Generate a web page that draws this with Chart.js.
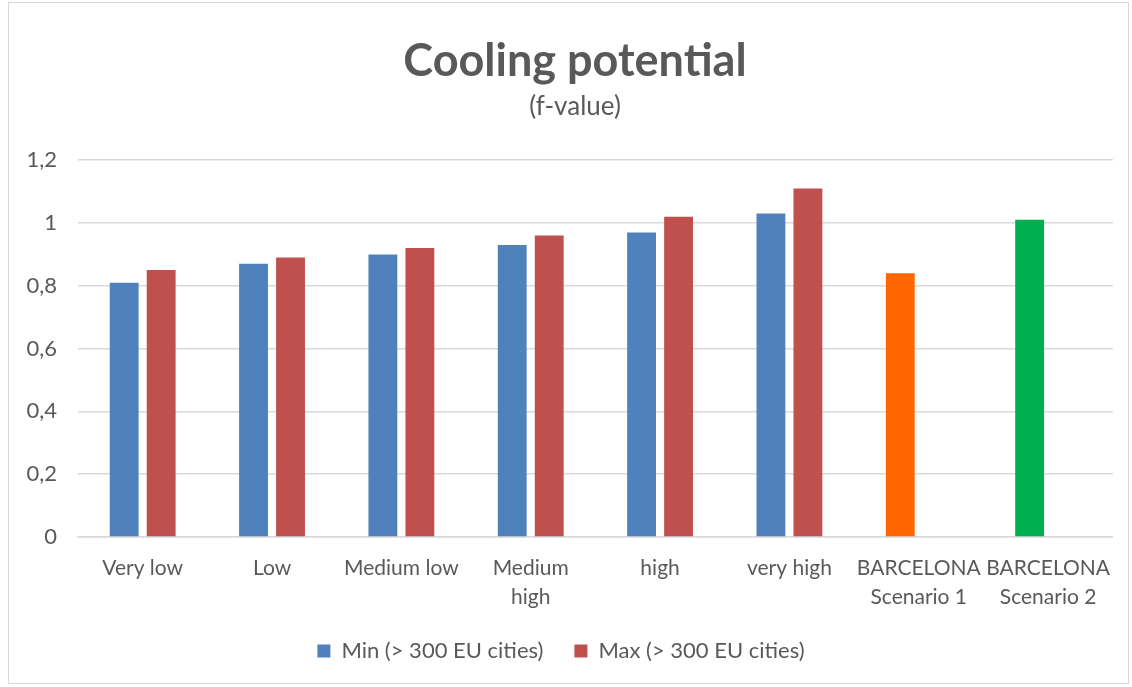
<!DOCTYPE html>
<html>
<head>
<meta charset="utf-8">
<script src="https://cdn.jsdelivr.net/npm/chart.js@4/dist/chart.umd.min.js"></script>
<style>
  html, body { margin: 0; padding: 0; background: #fff; }
  #wrap {
    position: absolute; left: 8px; top: 2px;
    width: 1121px; height: 682px;
    border: 1px solid #d9d9d9; box-sizing: border-box;
  }
</style>
</head>
<body>
<div id="wrap"><canvas id="chartCooling"></canvas></div>
<script>
const categories = ["Very low", "Low", "Medium low", ["Medium", "high"], "high", "very high",
                    ["BARCELONA", "Scenario 1"], ["BARCELONA", "Scenario 2"]];
const minValues = [0.81, 0.87, 0.90, 0.93, 0.97, 1.03, 0.84, 1.01];
const maxValues = [0.85, 0.89, 0.92, 0.96, 1.02, 1.11, null, null];
const minColors = ['#4F81BD', '#4F81BD', '#4F81BD', '#4F81BD', '#4F81BD', '#4F81BD', '#FF6600', '#00B050'];
const seriesNames = ["Min (> 300 EU cities)", "Max (> 300 EU cities)"];
const yTicks = [0, 0.2, 0.4, 0.6, 0.8, 1, 1.2];

const textColor = '#595959';
const fontFamily = 'Lato, "Open Sans", sans-serif';

// excel centres the titles a bit right of the canvas middle
const shiftTitles = {
    id: 'shiftTitles',
    afterLayout(chart) {
        chart.boxes.filter(b => b.position === 'top').forEach(b => {
            b.left += 14;
            b.right += 14;
        });
    }
};

const data = {
    labels: categories,
    datasets: [{
        label: seriesNames[0],
        data: minValues,
        backgroundColor: minColors,
        categoryPercentage: 0.572,
        barPercentage: 0.78
    }, {
        label: seriesNames[1],
        data: maxValues,
        backgroundColor: '#C0504D',
        categoryPercentage: 0.572,
        barPercentage: 0.78
    }]
};

const config = {
    type: 'bar',
    data,
    plugins: [shiftTitles],
    options: {
        responsive: true,
        maintainAspectRatio: false,
        animation: false,
        layout: { padding: { left: 0, right: 15, top: 0, bottom: 14 } },
        scales: {
            y: {
                min: 0,
                max: 1.2,
                afterBuildTicks: axis => { axis.ticks = yTicks.map(v => ({ value: v })); },
                afterFit: axis => { axis.width = 69; },
                ticks: {
                    color: textColor,
                    font: { family: fontFamily, size: 22 },
                    padding: 21,
                    callback: v => String(Math.round(v * 10) / 10).replace('.', ',')
                },
                grid: { color: '#d9d9d9', lineWidth: 1.5, drawTicks: false },
                border: { display: false }
            },
            x: {
                afterFit: axis => { axis.height = 72; },
                ticks: {
                    color: textColor,
                    font: { family: fontFamily, size: 21, lineHeight: 1.38 },
                    padding: 17,
                    maxRotation: 0,
                    autoSkip: false
                },
                grid: { display: false, drawTicks: false },
                border: { color: '#d9d9d9', width: 1.5 }
            }
        },
        plugins: {
            title: {
                display: true,
                text: 'Cooling potential',
                color: textColor,
                font: { family: fontFamily, size: 45, weight: 'bold' },
                padding: { top: 31, bottom: 0 }
            },
            subtitle: {
                display: true,
                text: '(f-value)',
                color: textColor,
                font: { family: fontFamily, size: 26 },
                padding: { top: 3, bottom: 38 }
            },
            legend: {
                position: 'bottom',
                maxHeight: 60,
                labels: {
                    color: textColor,
                    font: { family: fontFamily, size: 22 },
                    boxWidth: 13,
                    boxHeight: 13,
                    padding: 31
                }
            },
            tooltip: { enabled: false }
        }
    }
};

const myChart = new Chart(document.getElementById('chartCooling'), config);
</script>
</body>
</html>
